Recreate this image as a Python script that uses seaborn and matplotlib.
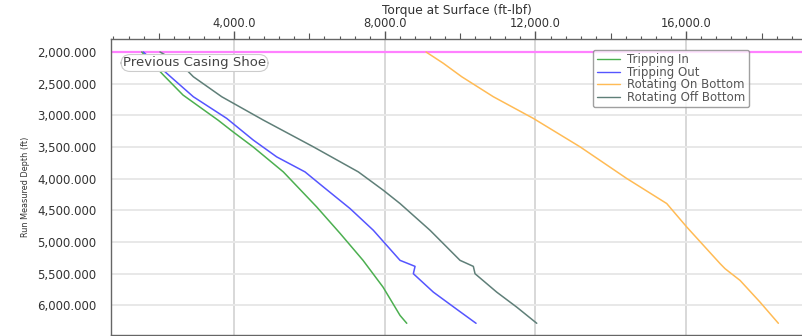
import numpy as np
import pandas as pd
import matplotlib
matplotlib.use("Agg")
import matplotlib.pyplot as plt
import matplotlib.ticker as mticker
import seaborn as sns

# ---- data (torque ft-lbf, depth ft) ----
trip_in_torque = [1550, 2124, 2646, 3575, 3973, 4504, 5308, 6195, 6813, 7424, 7955, 8406, 8584]
trip_in_depth = [2000, 2364, 2680, 3076, 3261, 3498, 3894, 4448, 4864, 5291, 5714, 6161, 6285]

trip_out_torque = [1593, 2214, 2920, 3806, 4512, 5133, 5884, 6370, 7079, 7697, 8406, 8804, 8759, 9290, 9953, 10423]
trip_out_depth = [2000, 2337, 2707, 3049, 3392, 3657, 3894, 4131, 4473, 4816, 5291, 5386, 5502, 5793, 6082, 6285]

rot_on_torque = [9096, 9555, 10043, 10882, 11943, 13183, 14422, 15484, 16014, 16900, 17032, 17430, 17960, 18446]
rot_on_depth = [2000, 2179, 2391, 2707, 3049, 3498, 3998, 4394, 4764, 5343, 5423, 5608, 5951, 6285]

rot_off_torque = [2036, 2567, 2920, 3674, 4778, 6105, 7299, 7962, 8406, 9202, 9998, 10351, 10396, 10972, 11503, 12034]
rot_off_depth = [2000, 2179, 2391, 2707, 3076, 3498, 3894, 4184, 4394, 4816, 5291, 5386, 5502, 5793, 6030, 6285]

series_names = ["Tripping In", "Tripping Out", "Rotating On Bottom", "Rotating Off Bottom"]
series_colors = ["#4caf50", "#5555ff", "#ffbb55", "#5f7f78"]
casing_shoe_depth = 2000
casing_label = "Previous Casing Shoe"

frames = []
for name, t, d in zip(series_names,
                      [trip_in_torque, trip_out_torque, rot_on_torque, rot_off_torque],
                      [trip_in_depth, trip_out_depth, rot_on_depth, rot_off_depth]):
    frames.append(pd.DataFrame({"Torque": t, "Depth": d, "Series": name}))
df = pd.concat(frames, ignore_index=True)

sns.set_style("white")
plt.rcParams["font.family"] = ["DejaVu Sans"]

fig = plt.figure(figsize=(8.03, 3.36), dpi=100)
ax = fig.add_axes([111 / 803, 1 / 336, 1 - 111 / 803, 1 - 40 / 336])

sns.lineplot(data=df, x="Torque", y="Depth", hue="Series", hue_order=series_names,
             palette=dict(zip(series_names, series_colors)), sort=False, estimator=None,
             units="Series", linewidth=1.1, ax=ax, legend=False)

ax.axhline(casing_shoe_depth, color="#ff80ff", linewidth=1.6, zorder=1)

ax.set_xlim(735, 19100)
ax.set_ylim(6470, 1795)

ax.xaxis.set_ticks_position("top")
ax.xaxis.set_label_position("top")
ax.xaxis.set_major_locator(mticker.MultipleLocator(4000))
ax.xaxis.set_minor_locator(mticker.MultipleLocator(400))
ax.xaxis.set_major_formatter(mticker.FuncFormatter(lambda v, p: f"{v:,.1f}"))
ax.yaxis.set_major_locator(mticker.MultipleLocator(500))
ax.yaxis.set_minor_locator(mticker.MultipleLocator(50))
ax.yaxis.set_major_formatter(mticker.FuncFormatter(lambda v, p: f"{v:,.3f}"))

ax.tick_params(axis="x", which="major", length=6, width=1, color="#555555", labelsize=8.3,
               labelcolor="#333333", pad=0.5, top=True, bottom=False)
ax.tick_params(axis="x", which="minor", length=2.2, width=0.8, color="#555555", top=True, bottom=False)
ax.tick_params(axis="y", which="major", length=10, width=1, color="#555555", labelsize=8.5,
               labelcolor="#333333", pad=0.5)
ax.tick_params(axis="y", which="minor", length=3, width=0.8, color="#555555")

ax.grid(True, which="major", axis="x", color="#d8d8d8", linewidth=1.4)
ax.grid(True, which="major", axis="y", color="#e8e8e8", linewidth=1.4)
ax.set_axisbelow(True)

for s in ["top", "left", "bottom"]:
    ax.spines[s].set_color("#666666")
    ax.spines[s].set_linewidth(1.0)
ax.spines["right"].set_visible(False)

ax.set_xlabel("Torque at Surface (ft-lbf)", fontsize=8.8, color="#333333", labelpad=2)
ax.set_ylabel("Run Measured Depth (ft)", fontsize=6.5, color="#333333", fontstretch="condensed",
              labelpad=5)

ax.text(1054, 2174, casing_label, fontsize=9.5, color="#444444", va="center", ha="left",
        bbox=dict(boxstyle="round,pad=0.15,rounding_size=0.7", fc="white", ec="#cccccc", lw=0.8))

handles = [plt.Line2D([], [], color=c, lw=1.0) for c in series_colors]
leg = ax.legend(handles, series_names, loc="upper left", bbox_to_anchor=(0.6965, 0.963),
                fontsize=8.5, frameon=True, fancybox=True, handlelength=2.0, handletextpad=0.6,
                labelspacing=-0.05, borderpad=0.3, borderaxespad=0)
for t in leg.get_texts():
    t.set_color("#555555")
leg.get_frame().set_edgecolor("#888888")
leg.get_frame().set_linewidth(1.0)

# medium-length minor ticks (every 2000 ft-lbf on x, every 250 ft on y)
fig.canvas.draw()
xlocs = ax.xaxis.get_minorticklocs()
for loc, tk in zip(xlocs, ax.xaxis.get_minor_ticks(len(xlocs))):
    if abs((loc / 2000.0) - round(loc / 2000.0)) < 1e-6:
        tk.tick2line.set_markersize(4)
ylocs = ax.yaxis.get_minorticklocs()
for loc, tk in zip(ylocs, ax.yaxis.get_minor_ticks(len(ylocs))):
    if abs((loc / 250.0) - round(loc / 250.0)) < 1e-6:
        tk.tick1line.set_markersize(6)

fig.savefig("out.png", dpi=100)
